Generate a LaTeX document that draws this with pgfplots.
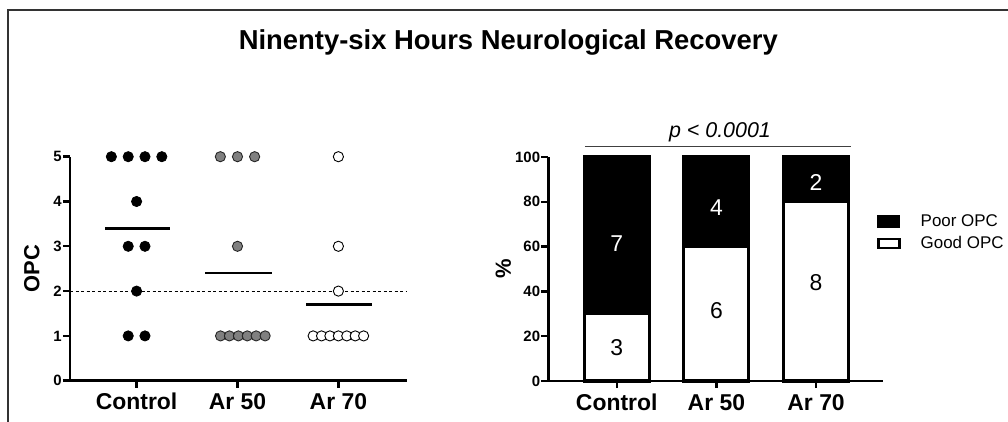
\documentclass[border=0pt]{standalone}
\usepackage{pgfplots}
\pgfplotsset{compat=1.18}
\usepackage{fontspec}
\setmainfont{Liberation Sans}
\begin{document}
\begin{tikzpicture}
\pgfplotsset{
 myax/.style={
  scale only axis, height=224bp,
  axis x line*=bottom, axis y line*=left,
  axis line style={line width=2.4bp, -},
  tick align=outside, major tick length=7bp,
  every tick/.style={line width=2.4bp, black},
  xtick={0,1,2}, xticklabels={Control, Ar 50, Ar 70},
  ymin=0, clip=false,
  /pgf/number format/assume math mode=true,
  yticklabel style={font=\bfseries\fontsize{15}{15}\selectfont, inner sep=1bp},
  xticklabel style={font=\bfseries\fontsize{23}{23}\selectfont, anchor=base, yshift=-22bp},
  ylabel style={font=\bfseries\fontsize{22}{22}\selectfont, anchor=center},
 }
}
% ---------------- left: scatter ----------------
\begin{axis}[myax, at={(70bp,41.3bp)}, anchor=south west, width=337bp,
  xmin=-0.66, xmax=2.68, ymax=5, ytick={0,1,2,3,4,5},
  ylabel={OPC}, ylabel style={at={(axis description cs:-0.113,0.5)}}]
\addplot[black, line width=1bp, dash pattern=on 3bp off 2.5bp] coordinates {(-0.66,2) (2.68,2)};
\addplot[only marks, mark=*, mark size=5.1bp, mark options={fill=black, draw=black, line width=0.8bp}] coordinates {
 (-0.25,5) (-0.083,5) (0.083,5) (0.25,5)
 (0,4)
 (-0.083,3) (0.083,3)
 (0,2)
 (-0.083,1) (0.083,1)};
\addplot[only marks, mark=*, mark size=5.1bp, mark options={fill=black!50, draw=black!85, line width=0.9bp}] coordinates {
 (0.83,5) (1.0,5) (1.17,5)
 (1.0,3)
 (0.832,1) (0.920,1) (1.009,1) (1.097,1) (1.185,1) (1.274,1)};
\addplot[only marks, mark=*, mark size=5.1bp, mark options={fill=white, draw=black, line width=0.9bp}] coordinates {
 (2,5) (2,3) (2,2)
 (1.75,1) (1.833,1) (1.916,1) (2.0,1) (2.083,1) (2.167,1) (2.25,1)};
\addplot[black, line width=2.4bp, no marks] coordinates {(-0.31,3.4) (0.33,3.4)};
\addplot[black, line width=2.4bp, no marks] coordinates {(0.68,2.4) (1.34,2.4)};
\addplot[black, line width=2.4bp, no marks] coordinates {(1.68,1.7) (2.33,1.7)};
\end{axis}
% ---------------- right: stacked bars ----------------
\begin{axis}[myax, at={(548.3bp,41bp)}, anchor=south west, width=335bp,
  xmin=-0.686, xmax=2.674, ymax=100, ytick={0,20,40,60,80,100},
  ylabel={\%}, ylabel style={at={(axis description cs:-0.134,0.5)}},
  ybar stacked, bar width=65bp,
  reverse legend,
  legend style={at={(0.981,0.752)}, anchor=north west, draw=none, fill=none,
    inner sep=0pt, font=\fontsize{17}{17}\selectfont, row sep=4.5bp,
    /tikz/every odd column/.append style={column sep=18bp},
    cells={anchor=west}},
  legend cell align=left]
\addplot[fill=white, draw=black, line width=3bp,
  legend image code/.code={\draw[fill=white, draw=black, line width=2.6bp] (0bp,-4.6bp) rectangle (21bp,4.6bp);}]
  coordinates {(0,30) (1,60) (2,80)};
\addplot[fill=black, draw=black, line width=3bp,
  legend image code/.code={\draw[fill=black, draw=black, line width=1bp] (-0.5bp,-5.6bp) rectangle (21.5bp,5.6bp);}]
  coordinates {(0,70) (1,40) (2,20)};
\legend{Good OPC, Poor OPC}
\coordinate (g1) at (axis cs:0,15);
\coordinate (p1) at (axis cs:0,61.5);
\coordinate (g2) at (axis cs:1,31.5);
\coordinate (p2) at (axis cs:1,77.5);
\coordinate (g3) at (axis cs:2,44);
\coordinate (p3) at (axis cs:2,88.5);
\coordinate (pl) at (axis cs:-0.32,104.8);
\coordinate (pr) at (axis cs:2.35,104.8);
\coordinate (pt) at (axis cs:1.036,108.6);
\end{axis}
\node[font=\fontsize{23}{23}\selectfont, text=black] at (g1) {3};
\node[font=\fontsize{23}{23}\selectfont, text=white] at (p1) {7};
\node[font=\fontsize{23}{23}\selectfont, text=black] at (g2) {6};
\node[font=\fontsize{23}{23}\selectfont, text=white] at (p2) {4};
\node[font=\fontsize{23}{23}\selectfont, text=black] at (g3) {8};
\node[font=\fontsize{23}{23}\selectfont, text=white] at (p3) {2};
\draw[line width=1bp, black!75] (pl) -- (pr);
\node[anchor=base, font=\itshape\fontsize{21.5}{21.5}\selectfont] at (pt) {p < 0.0001};
% ---------------- title and frame ----------------
\node[anchor=base, font=\bfseries\fontsize{27.5}{28}\selectfont] at (508.3bp,372bp) {Ninenty-six Hours Neurological Recovery};
\draw[line width=2bp, black!80] (8bp,-2bp) -- (8bp,412bp) -- (1012bp,412bp);
\pgfresetboundingbox
\useasboundingbox (0bp,0bp) rectangle (1008bp,422bp);
\end{tikzpicture}
\end{document}
